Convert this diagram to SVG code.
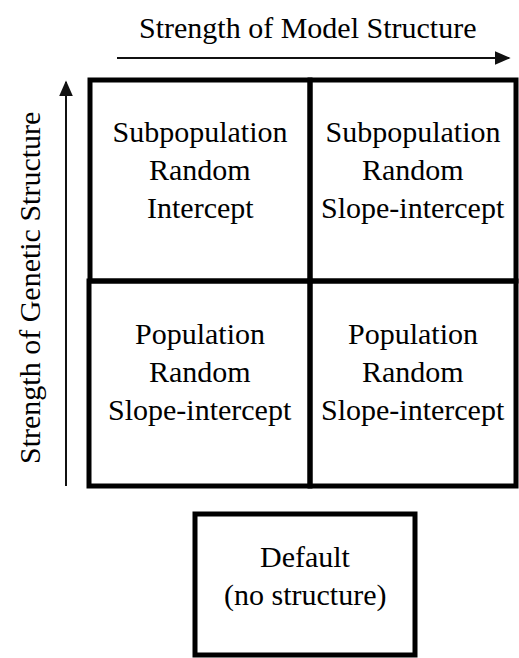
<svg xmlns="http://www.w3.org/2000/svg" width="519" height="658" viewBox="0 0 519 658">
  <defs>
    <marker id="head" viewBox="0 0 10 10" refX="9" refY="5" markerWidth="16" markerHeight="14" markerUnits="userSpaceOnUse" orient="auto" preserveAspectRatio="none">
      <path d="M0,0 L10,5 L0,10 z" fill="#111"/>
    </marker>
  </defs>
  <rect width="519" height="658" fill="#fff"/>

  <!-- axis titles (start-anchored, x computed from Times metrics) -->
  <text x="139" y="38" font-family="Liberation Serif" font-size="30">Strength of Model Structure</text>
  <text transform="translate(40,464) rotate(-90)" x="0" y="0" font-family="Liberation Serif" font-size="30">Strength of Genetic Structure</text>

  <!-- axis arrows -->
  <g id="connectors" stroke="#111" stroke-width="2" fill="none">
    <line x1="117" y1="58" x2="509" y2="58" marker-end="url(#head)"/>
    <line x1="66" y1="486" x2="66" y2="82" marker-end="url(#head)"/>
  </g>

  <!-- 2x2 grid cells -->
  <g id="cell-sub-intercept">
    <rect x="90" y="80" width="220" height="201" fill="none" stroke="#000" stroke-width="5"/>
    <text x="112.5" y="142" font-family="Liberation Serif" font-size="30">Subpopulation</text>
    <text x="149" y="180" font-family="Liberation Serif" font-size="30">Random</text>
    <text x="147" y="218" font-family="Liberation Serif" font-size="30">Intercept</text>
  </g>
  <g id="cell-sub-slope">
    <rect x="310" y="80" width="206" height="201" fill="none" stroke="#000" stroke-width="5"/>
    <text x="325.5" y="142" font-family="Liberation Serif" font-size="30">Subpopulation</text>
    <text x="362" y="180" font-family="Liberation Serif" font-size="30">Random</text>
    <text x="321" y="218" font-family="Liberation Serif" font-size="30">Slope-intercept</text>
  </g>
  <g id="cell-pop-left">
    <rect x="89" y="281" width="221" height="205" fill="none" stroke="#000" stroke-width="5"/>
    <text x="135" y="344" font-family="Liberation Serif" font-size="30">Population</text>
    <text x="149" y="382" font-family="Liberation Serif" font-size="30">Random</text>
    <text x="108" y="420" font-family="Liberation Serif" font-size="30">Slope-intercept</text>
  </g>
  <g id="cell-pop-right">
    <rect x="310" y="281" width="206" height="205" fill="none" stroke="#000" stroke-width="5"/>
    <text x="348" y="344" font-family="Liberation Serif" font-size="30">Population</text>
    <text x="362" y="382" font-family="Liberation Serif" font-size="30">Random</text>
    <text x="321" y="420" font-family="Liberation Serif" font-size="30">Slope-intercept</text>
  </g>

  <!-- baseline model -->
  <g id="default">
    <rect x="195" y="514" width="220" height="141" fill="none" stroke="#000" stroke-width="5"/>
    <text x="260" y="567" font-family="Liberation Serif" font-size="30">Default</text>
    <text x="224" y="605" font-family="Liberation Serif" font-size="30">(no structure)</text>
  </g>
</svg>
